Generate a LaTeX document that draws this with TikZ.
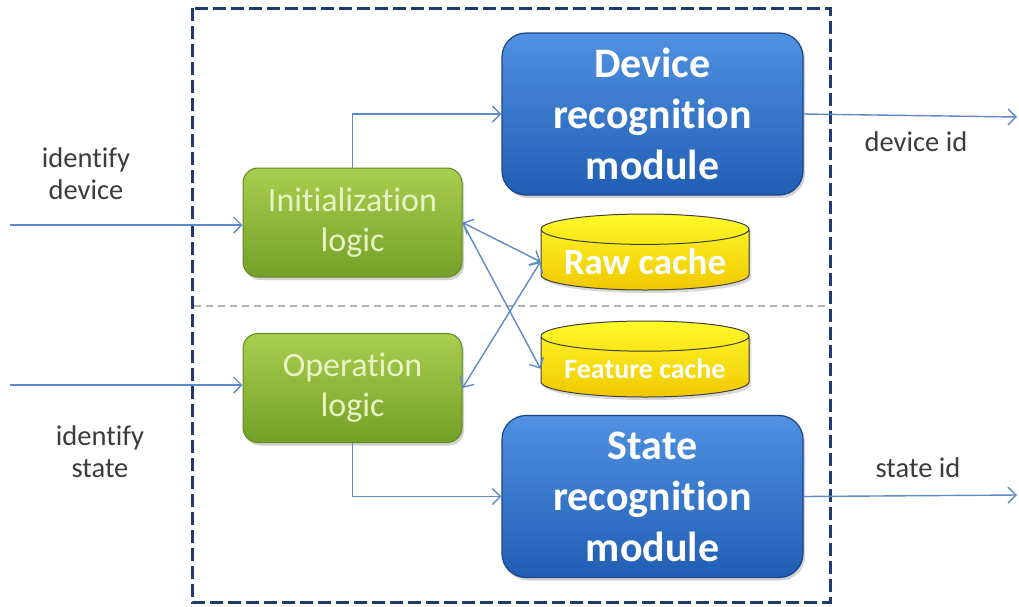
\documentclass[tikz,border=0pt]{standalone}
\usepackage{fontspec}
\setmainfont{Carlito}[Ligatures=NoCommon]
\usetikzlibrary{positioning, shapes.geometric, arrows.meta, shadows}
\definecolor{linkblue}{RGB}{95,138,200}
\definecolor{framenavy}{RGB}{30,58,110}
\definecolor{modtop}{RGB}{80,145,225}
\definecolor{modbot}{RGB}{32,94,180}
\definecolor{modline}{RGB}{28,68,138}
\definecolor{logtop}{RGB}{168,206,78}
\definecolor{logbot}{RGB}{116,160,40}
\definecolor{logline}{RGB}{98,138,30}
\definecolor{logtext}{RGB}{232,244,196}
\definecolor{cachetop}{RGB}{255,250,40}
\definecolor{cachebot}{RGB}{240,200,0}
\definecolor{labelgray}{RGB}{60,60,60}
\tikzset{
    module/.style={
        rectangle, rounded corners=24pt, draw=modline, line width=1.2pt,
        top color=modtop, bottom color=modbot, text=white,
        minimum width=301pt, minimum height=162pt, align=center,
        font=\fontsize{42}{51}\selectfont\bfseries,
        drop shadow={opacity=0.35, shadow xshift=2pt, shadow yshift=-3pt}
    },
    logic/.style={
        rectangle, rounded corners=15pt, draw=logline, line width=1pt,
        top color=logtop, bottom color=logbot, text=logtext,
        minimum width=219pt, minimum height=109pt, align=center,
        font=\fontsize{34}{40}\selectfont,
        drop shadow={opacity=0.35, shadow xshift=2pt, shadow yshift=-3pt}
    },
    cache/.style={
        cylinder, shape border rotate=90, aspect=0.18, draw=black!75, line width=1pt,
        top color=cachetop, bottom color=cachebot, text=white,
        minimum width=208pt, minimum height=76pt, anchor=shape center,
        drop shadow={opacity=0.3, shadow xshift=2pt, shadow yshift=-3pt}
    },
    lbl/.style={
        align=center, text=labelgray, font=\fontsize{28.5}{32}\selectfont
    },
    link/.style={
        draw=linkblue, line width=1.4pt, -{Straight Barb[length=8pt, width=16pt]}
    },
    both/.style={
        draw=linkblue, line width=1.4pt,
        {Straight Barb[length=8pt, width=16pt]}-{Straight Barb[length=8pt, width=16pt]}
    }
}
\begin{document}
\begin{tikzpicture}[x=1pt, y=-1pt]
    \useasboundingbox[fill=white] (0,0) rectangle (1019,606);

    % outer frame and split line
    \draw[framenavy, line width=3pt, dash pattern={on 13pt off 5pt}] (192,8) rectangle (830,602);
    \draw[black!30, line width=1.2pt, dash pattern={on 7pt off 5pt}] (194,306) -- (828,306);

    \node[module] (device)  at (652.5,114)   {Device\\recognition\\module};
    \node[module] (state)   at (652.5,496.5) {State\\recognition\\module};

    \node[logic] (init)     at (352.5,222.5) {Initialization\\logic};
    \node[logic] (oper)     at (352.5,388)   {Operation\\logic};

    \node[cache, font=\fontsize{37}{40}\selectfont\bfseries] (raw)     at (645,252) {Raw cache};
    \node[cache, font=\fontsize{28}{30}\selectfont\bfseries] (feature) at (645,359) {Feature cache};

    \coordinate (inDev)    at (10,225);
    \coordinate (inState)  at (10,385);
    \coordinate (outDev)   at (1017,117);
    \coordinate (outState) at (1017,495);

    \node[lbl] (lblInDev)    at (86,174)  {identify\\device};
    \node[lbl] (lblInState)  at (100,452) {identify\\state};
    \node[lbl] (lblOutDev)   at (916,142) {device id};
    \node[lbl] (lblOutState) at (918,468) {state id};

    \draw[link] (inDev) -- (inDev -| init.west);
    \draw[link] (inState) -- (inState -| oper.west);
    \draw[link] (init.north) |- (device.west);
    \draw[link] (oper.south) |- (state.west);
    \draw[link] (device.east) -- (outDev);
    \draw[link] (state.east) -- (outState);

    \draw[both] (init.east) -- (raw.west);
    \draw[link] (init.east) -- (feature.west);
    \draw[both] (oper.east) -- (raw.west);
\end{tikzpicture}
\end{document}
